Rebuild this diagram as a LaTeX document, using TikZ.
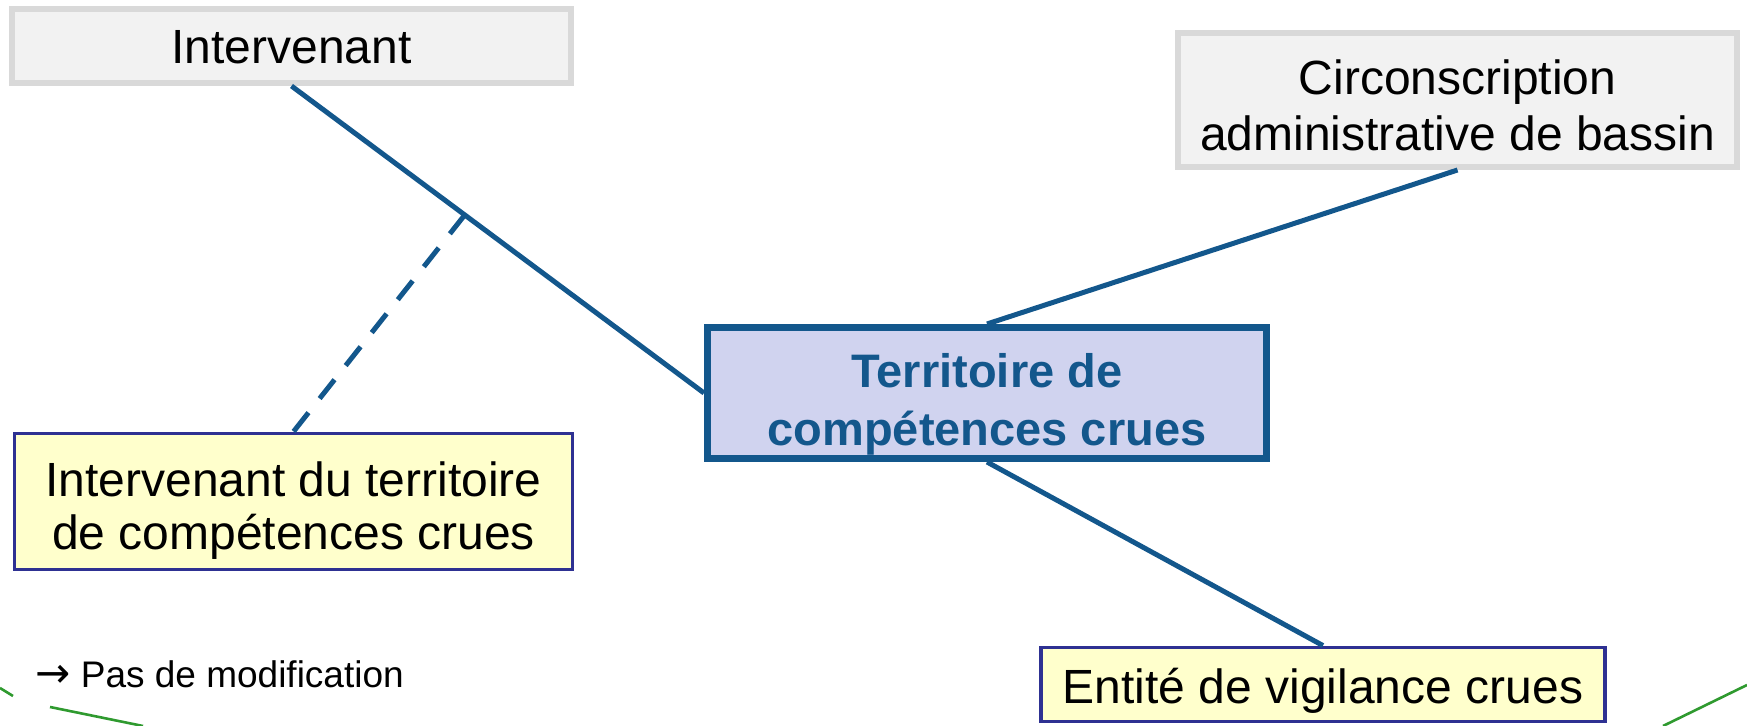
\documentclass[tikz,border=0pt]{standalone}
\usepackage{fontspec}
\setmainfont{Liberation Sans}
\newfontfamily\symfont{DejaVu Sans}
\definecolor{linkblue}{HTML}{13578C}
\definecolor{grayfill}{HTML}{F2F2F2}
\definecolor{grayline}{HTML}{D9D9D9}
\definecolor{terrfill}{HTML}{D0D3EF}
\definecolor{yelfill}{HTML}{FFFFCC}
\definecolor{yelline}{HTML}{2E3192}
\definecolor{greenline}{HTML}{2F9A2F}
\begin{document}
\begin{tikzpicture}[x=0.5pt,y=-0.5pt,
  txt/.style={align=center, text=black, inner sep=0pt},
  graybox/.style={draw=grayline, fill=grayfill, line width=3pt, inner sep=0pt},
  yelbox/.style={draw=yelline, fill=yelfill, line width=1.9pt, inner sep=0pt},
  terrbox/.style={draw=linkblue, fill=terrfill, line width=3.5pt, inner sep=0pt},
  terrtxt/.style={txt, font=\fontsize{23.5}{29}\selectfont\bfseries, text=linkblue},
  link/.style={draw=linkblue, line width=2.5pt},
  dlink/.style={link, dash pattern=on 12pt off 9pt},
  grn/.style={draw=greenline, line width=1.3pt}]
\useasboundingbox (0,0) rectangle (1747,726);
% boxes
\node[graybox, minimum width=279.5pt, minimum height=37pt] (ivt) at (291.5,46) {};
\node[graybox, minimum width=279.5pt, minimum height=67pt] (circ) at (1457.5,100) {};
\node[terrbox, minimum width=279.5pt, minimum height=65.5pt] (terr) at (987,393) {};
\node[yelbox, minimum width=279pt, minimum height=68pt] (itc) at (293.5,501.5) {};
\node[yelbox, minimum width=282pt, minimum height=37pt] (ent) at (1323,684.5) {};
% texts
\node[txt, font=\fontsize{24}{28}\selectfont] (ivtT) at ([yshift=-0.5pt]ivt.center) {Intervenant};
\node[txt, font=\fontsize{24}{28}\selectfont] (circT) at ([yshift=-2.5pt]circ.center) {Circonscription\\administrative de bassin};
\node[terrtxt] (terrT) at ([yshift=-5.5pt]terr.center) {Territoire de\\compétences crues};
\node[txt, font=\fontsize{24}{26.5}\selectfont] (itcT) at ([yshift=-4.5pt]itc.center) {Intervenant du territoire\\de compétences crues};
\node[txt, font=\fontsize{24}{28}\selectfont] (entT) at ([yshift=-3.3pt]ent.center) {Entité de vigilance crues};
% connectors
\draw[link] (ivt.south) -- coordinate[pos=0.42] (mid) (terr.west);
\draw[dlink] (mid) -- (itc.north);
\draw[link] (terr.north) -- (circ.south);
\draw[link] (terr.south) -- (ent.north);
% note
\node[anchor=base west, inner sep=0pt, font=\fontsize{18.5}{22}\selectfont] (note) at (35,688) {{\symfont\fontsize{21}{22}\selectfont →} Pas de modification};
% green fragments
\draw[grn] (0,688) -- (13,696);
\draw[grn] (50,707) -- (143,726);
\draw[grn] (1663,726) -- (1747,685);
\end{tikzpicture}
\end{document}
